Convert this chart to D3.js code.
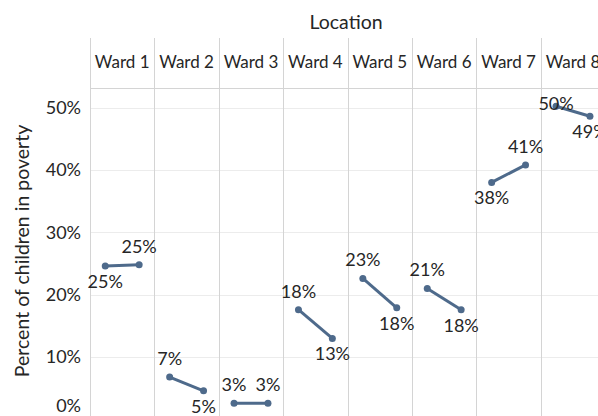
<!DOCTYPE html>
<html>
<head>
<meta charset="utf-8">
<script src="https://cdn.jsdelivr.net/npm/d3@7"></script>
<style>
  body { margin: 0; background: #fff; }
  text { font-family: Lato, "Open Sans", sans-serif; fill: #262626; }
</style>
</head>
<body>
<svg width="598" height="416"></svg>
<script>
// Data =====================================================
var wards = ["Ward 1", "Ward 2", "Ward 3", "Ward 4", "Ward 5", "Ward 6", "Ward 7", "Ward 8"];
var periods = ["first", "second"];
var firstValues = [0.246, 0.068, 0.026, 0.176, 0.226, 0.210, 0.380, 0.502];
var secondValues = [0.248, 0.046, 0.026, 0.130, 0.179, 0.176, 0.408, 0.486];
var yTicks = [0, 0.1, 0.2, 0.3, 0.4, 0.5];

// Layout ===================================================
var svg = d3.select("svg"),
    width = +svg.attr("width"),
    height = +svg.attr("height");

var left = 90, headerTop = 38, plotTop = 88, colWidth = 64.4;
var lineColor = "#4e6a8b";
var pct = d3.format(".0%");

var x = d3.scaleBand()
    .domain(wards)
    .range([left, left + colWidth * wards.length]);

var inner = d3.scalePoint()
    .domain(periods)
    .range([0, x.bandwidth()])
    .padding(0.45);

var y = d3.scaleLinear()
    .domain([0, 0.5])
    .range([419.5, 107.5]);

// horizontal gridlines
svg.append("g")
  .selectAll("line")
  .data(yTicks)
  .enter().append("line")
    .attr("x1", left).attr("x2", width)
    .attr("y1", function(d) { return Math.round(y(d)) + 0.5; })
    .attr("y2", function(d) { return Math.round(y(d)) + 0.5; })
    .attr("stroke", "#ececec");

// header bottom line
svg.append("line")
    .attr("x1", left).attr("x2", width)
    .attr("y1", plotTop + 0.5).attr("y2", plotTop + 0.5)
    .attr("stroke", "#d4d4d4");

// column borders
svg.append("g")
  .selectAll("line")
  .data(wards)
  .enter().append("line")
    .attr("x1", function(d) { return Math.round(x(d)) + 0.5; })
    .attr("x2", function(d) { return Math.round(x(d)) + 0.5; })
    .attr("y1", headerTop).attr("y2", height)
    .attr("stroke", "#d4d4d4");

// headers
svg.append("text")
    .attr("x", 346)
    .attr("y", 29)
    .attr("text-anchor", "middle")
    .style("font-size", "19.5px")
    .text("Location");

svg.append("g")
  .selectAll("text")
  .data(wards)
  .enter().append("text")
    .attr("x", function(d) { return x(d) + x.bandwidth() / 2; })
    .attr("y", 68)
    .attr("text-anchor", "middle")
    .style("font-size", "17px")
    .text(function(d) { return d; });

// y axis labels
svg.append("g")
  .selectAll("text")
  .data(yTicks)
  .enter().append("text")
    .attr("x", 81)
    .attr("y", function(d) { return Math.min(y(d), 406); })
    .attr("dy", "0.35em")
    .attr("text-anchor", "end")
    .style("font-size", "18px")
    .text(function(d) { return pct(d); });

svg.append("text")
    .attr("transform", "translate(29," + 251 + ") rotate(-90)")
    .attr("text-anchor", "middle")
    .style("font-size", "19.5px")
    .text("Percent of children in poverty");

// slopes
var rows = wards.map(function(w, i) {
  return { ward: w, values: [firstValues[i], secondValues[i]] };
});

var g = svg.append("g");
rows.forEach(function(r) {
  var pts = r.values.map(function(v, j) {
    return { x: x(r.ward) + inner(periods[j]), y: y(v), v: v };
  });
  g.append("line")
    .attr("x1", pts[0].x).attr("y1", pts[0].y)
    .attr("x2", pts[1].x).attr("y2", pts[1].y)
    .attr("stroke", lineColor)
    .attr("stroke-width", 3);
  g.selectAll(null)
    .data(pts)
    .enter().append("circle")
      .attr("cx", function(d) { return d.x; })
      .attr("cy", function(d) { return d.y; })
      .attr("r", 3.5)
      .attr("fill", lineColor);

  var diff = r.values[1] - r.values[0];
  pts.forEach(function(p, j) {
    var above;
    if (diff === 0) above = true;
    else if (diff > 0) above = (j === 1);
    else above = (j === 0);
    g.append("text")
      .attr("x", p.x)
      .attr("y", above ? Math.max(p.y - 12, 110) : p.y + 22)
      .attr("text-anchor", "middle")
      .style("font-size", "18px")
      .text(pct(p.v));
  });
});
</script>
</body>
</html>
